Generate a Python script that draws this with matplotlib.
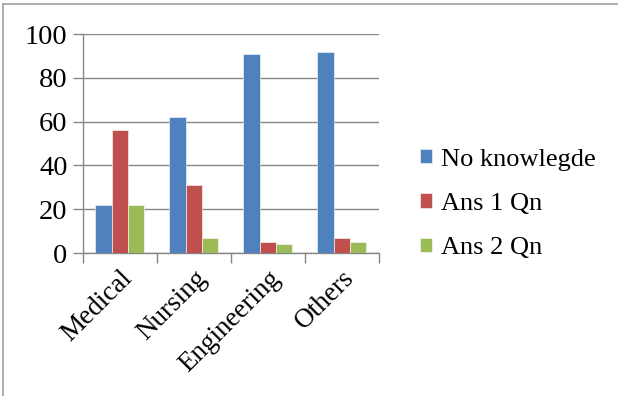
import numpy as np
import matplotlib.pyplot as plt
from matplotlib.lines import Line2D

categories = ['Medical', 'Nursing', 'Engineering', 'Others']
no_knowledge = [22, 62, 91, 92]
ans_1_qn = [56, 31, 5, 7]
ans_2_qn = [22, 7, 4, 5]
series_names = ['No knowlegde', 'Ans 1 Qn', 'Ans 2 Qn']
colors = ['#4F81BD', '#C0504D', '#9BBB59']
y_ticks = [0, 20, 40, 60, 80, 100]

plt.rcParams['font.family'] = ['Liberation Serif', 'DejaVu Serif']

fig = plt.figure(figsize=(6.18, 3.96), dpi=100)
ax = fig.add_axes([0.134, 0.361, 0.479, 0.553])

x = np.arange(len(categories))
w = 0.22
for i, (vals, name, c) in enumerate(zip([no_knowledge, ans_1_qn, ans_2_qn], series_names, colors)):
    ax.bar(x + (i - 1) * w, vals, w, color=c, label=name, zorder=3,
           edgecolor='white', linewidth=0.4)

ax.set_xlim(-0.5, len(categories) - 0.5)
ax.set_ylim(0, 100)
ax.set_yticks(y_ticks)
ax.yaxis.grid(True, color='#868686', linewidth=1, zorder=0)

ax.set_xticks(x)
ax.set_xticklabels(categories, rotation=45, ha='right', rotation_mode='anchor', fontsize=19.5)
ax.set_xticks(np.arange(-0.5, len(categories)), minor=True)
ax.tick_params(axis='x', which='major', length=0, pad=9)
ax.tick_params(axis='x', which='minor', length=7, color='#868686', width=1)
ax.tick_params(axis='y', length=7, color='#868686', width=1, labelsize=20.5, pad=4)

for s in ['top', 'right']:
    ax.spines[s].set_visible(False)
for s in ['left', 'bottom']:
    ax.spines[s].set_color('#868686')
    ax.spines[s].set_linewidth(1)

ax.legend(loc='center left', bbox_to_anchor=(1.06, 0.224), frameon=False,
          fontsize=19, handlelength=0.45, handleheight=0.45, handletextpad=0.35,
          labelspacing=0.85)

# outer chart border (only top and left visible in the reference)
fig.add_artist(Line2D([0.005, 1], [0.99, 0.99], color='#a0a0a0', linewidth=1.2))
fig.add_artist(Line2D([0.005, 0.005], [0, 0.99], color='#a0a0a0', linewidth=1.2))

fig.savefig('out.png', dpi=100)
